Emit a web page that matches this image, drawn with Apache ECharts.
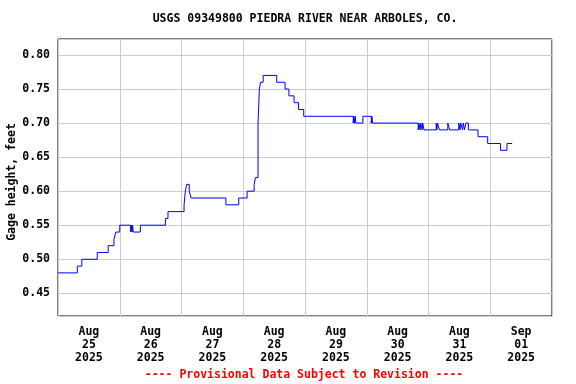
<!DOCTYPE html>
<html>
<head>
<meta charset="utf-8">
<script src="https://cdn.jsdelivr.net/npm/echarts@6/dist/echarts.min.js"></script>
<style>html,body{margin:0;padding:0;background:#fff}#c{width:576px;height:384px}</style>
</head>
<body>
<div id="c"></div>
<script>
const title = 'USGS 09349800 PIEDRA RIVER NEAR ARBOLES, CO.';
const yName = 'Gage height, feet';
const footer = '---- Provisional Data Subject to Revision ----';
const startDay = '2025-08-25 00:00';
const dayLabels = ['Aug\n25\n2025','Aug\n26\n2025','Aug\n27\n2025','Aug\n28\n2025','Aug\n29\n2025','Aug\n30\n2025','Aug\n31\n2025','Sep\n01\n2025'];
const times = [
 '2025-08-25 00:00','2025-08-25 07:30','2025-08-25 09:15','2025-08-25 15:15','2025-08-25 19:30','2025-08-25 21:45','2025-08-25 22:30','2025-08-25 23:15','2025-08-26 00:00',
 '2025-08-26 04:15','2025-08-26 04:30','2025-08-26 04:45','2025-08-26 05:00','2025-08-26 05:15','2025-08-26 08:00',
 '2025-08-26 17:45','2025-08-26 18:45',
 '2025-08-27 01:00','2025-08-27 01:15','2025-08-27 01:30','2025-08-27 02:00','2025-08-27 03:00','2025-08-27 03:45',
 '2025-08-27 17:15','2025-08-27 22:15','2025-08-28 01:30','2025-08-28 04:15','2025-08-28 04:45',
 '2025-08-28 05:45','2025-08-28 06:15','2025-08-28 06:45','2025-08-28 07:45',
 '2025-08-28 13:00','2025-08-28 16:15','2025-08-28 17:45','2025-08-28 19:45','2025-08-28 21:30','2025-08-28 23:30',
 '2025-08-29 18:45','2025-08-29 19:00','2025-08-29 19:15','2025-08-29 19:30','2025-08-29 19:45','2025-08-29 22:30',
 '2025-08-30 01:45','2025-08-30 02:00','2025-08-30 02:15',
 '2025-08-30 20:00','2025-08-30 20:15','2025-08-30 20:45','2025-08-30 21:00','2025-08-30 21:30','2025-08-30 21:45','2025-08-30 22:15',
 '2025-08-31 03:00','2025-08-31 03:15','2025-08-31 03:30','2025-08-31 04:15','2025-08-31 07:30','2025-08-31 08:15',
 '2025-08-31 11:45','2025-08-31 12:15','2025-08-31 12:30','2025-08-31 13:15','2025-08-31 13:30','2025-08-31 14:00','2025-08-31 14:30','2025-08-31 15:30',
 '2025-08-31 19:15','2025-08-31 23:00','2025-09-01 04:00','2025-09-01 06:30','2025-09-01 08:30'
];
const gage = [
 0.48,0.49,0.50,0.51,0.52,0.53,0.54,0.54,0.55,
 0.54,0.55,0.54,0.55,0.54,0.55,
 0.56,0.57,
 0.58,0.59,0.60,0.61,0.60,0.59,
 0.58,0.59,0.60,0.61,0.62,
 0.70,0.75,0.76,0.77,
 0.76,0.75,0.74,0.73,0.72,0.71,
 0.70,0.71,0.70,0.71,0.70,0.71,
 0.70,0.71,0.70,
 0.69,0.70,0.69,0.70,0.69,0.70,0.69,
 0.70,0.69,0.70,0.69,0.70,0.69,
 0.70,0.69,0.70,0.69,0.70,0.69,0.70,0.69,
 0.68,0.67,0.66,0.67,0.67
];
function toHours(s){
  const [d,t]=s.split(' ');const [Y,M,D]=d.split('-').map(Number);const [h,m]=t.split(':').map(Number);
  const [d0]=startDay.split(' ');const [Y0,M0,D0]=d0.split('-').map(Number);
  return (Date.UTC(Y,M-1,D,h,m)-Date.UTC(Y0,M0-1,D0))/3600000;
}
const data = times.map((t,i)=>[toHours(t),gage[i]]);
const FONT = 'DejaVu Sans Mono';
const chart = echarts.init(document.getElementById('c'),null,{renderer:'canvas'});
chart.setOption({
  animation:false,
  backgroundColor:'#fff',
  grid:{left:58,right:24,top:39,bottom:68,containLabel:false,outerBoundsMode:'none',show:true,borderColor:'#000',borderWidth:1,backgroundColor:'transparent'},
  graphic:[
    {type:'text',x:305,y:19,style:{text:title,font:'bold 11.5px "DejaVu Sans Mono"',fill:'#000',textAlign:'center',textVerticalAlign:'middle'}},
    {type:'text',x:304,y:375,style:{text:footer,font:'bold 11.5px "DejaVu Sans Mono"',fill:'#ff0000',textAlign:'center',textVerticalAlign:'middle'}},
    {type:'text',x:12,y:182,rotation:Math.PI/2,style:{text:yName,font:'bold 11.5px "DejaVu Sans Mono"',fill:'#000',textAlign:'center',textVerticalAlign:'middle'}}
  ],
  xAxis:[
    {type:'value',min:0,max:192,interval:24,axisLine:{show:false},axisTick:{show:false},axisLabel:{show:false},
     splitLine:{show:true,lineStyle:{color:'#cccccc',width:1}}},
    {type:'value',min:0,max:192,interval:12,position:'bottom',axisLine:{show:false},axisTick:{show:false},splitLine:{show:false},
     axisLabel:{show:true,margin:10,fontFamily:FONT,fontWeight:'bold',fontSize:11.5,color:'#000',lineHeight:13,
       formatter:function(v){const k=Math.round((v-12)/24);return (Math.abs(v-12-24*k)<1e-6&&k>=0&&k<dayLabels.length)?dayLabels[k]:'';}}}
  ],
  yAxis:{type:'value',min:0.4167,max:0.8235,splitNumber:8,
    axisLine:{show:false},axisTick:{show:false},
    axisLabel:{margin:8,fontFamily:FONT,fontWeight:'bold',fontSize:11.5,color:'#000',showMinLabel:false,showMaxLabel:false,
      formatter:function(v){const r=v/0.05;return Math.abs(r-Math.round(r))<1e-6?v.toFixed(2):'';}},
    splitLine:{show:true,lineStyle:{color:'#cccccc',width:1}}},
  series:[{type:'line',xAxisIndex:0,data:data,step:'end',showSymbol:false,symbol:'none',
    lineStyle:{color:'#0000ff',width:1},itemStyle:{color:'#0000ff'},z:5}]
});
</script>
</body>
</html>
